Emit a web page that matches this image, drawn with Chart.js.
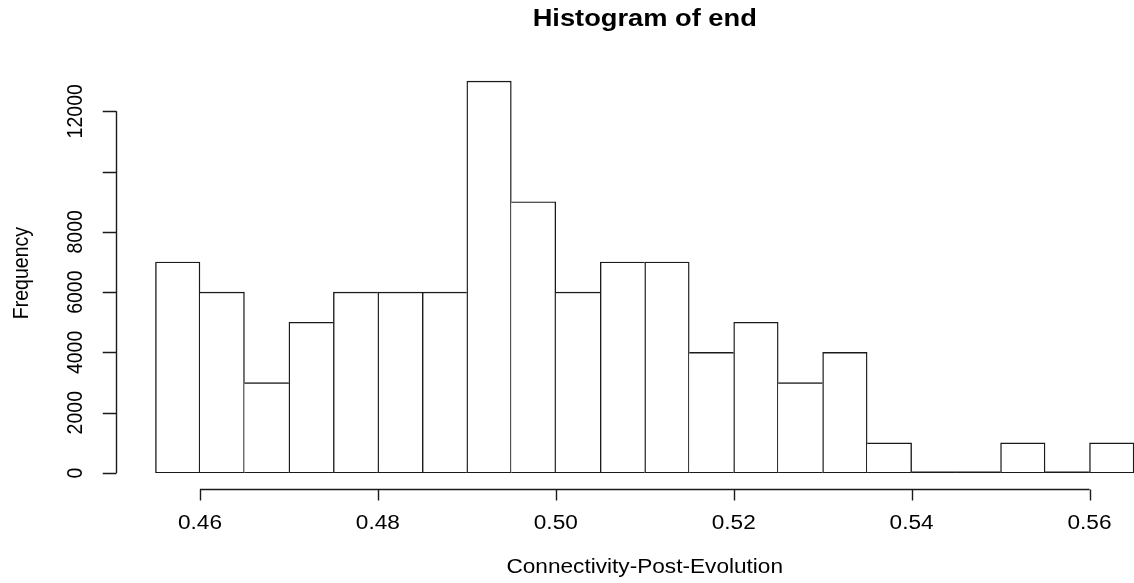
<!DOCTYPE html>
<html>
<head>
<meta charset="utf-8">
<title>Histogram of end</title>
<script src="https://cdn.jsdelivr.net/npm/chart.js@4/dist/chart.umd.min.js"></script>
<style>
  html, body { margin: 0; padding: 0; background: #fff; }
  #wrap { width: 1134px; height: 583px; position: relative; }
</style>
</head>
<body>
<div id="wrap"><canvas id="hist"></canvas></div>
<script>
// bins: left edges, common width, counts per bin
const binEdges = [0.455, 0.460, 0.465, 0.470, 0.475, 0.480, 0.485, 0.490, 0.495, 0.500, 0.505,
                  0.510, 0.515, 0.520, 0.525, 0.530, 0.535, 0.540, 0.545, 0.550, 0.555, 0.560];
const binWidth = 0.005;
const counts = [7000, 6000, 3000, 5000, 6000, 6000, 6000, 13000, 9000, 6000, 7000,
                7000, 4000, 5000, 3000, 4000, 1000, 0, 0, 1000, 0, 1000];

const xTicks = [0.46, 0.48, 0.50, 0.52, 0.54, 0.56];
const yTicks = [0, 2000, 4000, 6000, 8000, 10000, 12000];

const mainTitle = 'Histogram of end';
const xTitle = 'Connectivity-Post-Evolution';
const yTitle = 'Frequency';

const INK = '#1a1a1a';
const FONT = '"Liberation Sans", Arial, sans-serif';
const STRETCH = 1.16;   // text comes out a bit wide, like the old png device
const TICK = 11;
const LW = 1.4;

function drawText(ctx, str, x, y, size, opts = {}) {
  ctx.save();
  ctx.translate(x, y);
  ctx.scale(STRETCH, 1);
  if (opts.rotate) ctx.rotate(opts.rotate);
  ctx.font = (opts.bold ? 'bold ' : '') + size + 'px ' + FONT;
  ctx.fillStyle = '#000';
  ctx.textAlign = 'center';
  ctx.textBaseline = 'middle';
  ctx.fillText(str, 0, 0);
  ctx.restore();
}

// base-graphics style axes: detached from the bars, 4% outside the data range
const rAxes = {
  id: 'rAxes',
  afterDatasetsDraw(chart) {
    const ctx = chart.ctx;
    const xs = chart.scales.x, ys = chart.scales.y;
    const lo = binEdges[0], hi = binEdges[binEdges.length - 1] + binWidth;
    const top = Math.max(...counts);
    const padX = 0.04 * (hi - lo), padY = 0.04 * top;

    const left = xs.getPixelForValue(lo - padX);
    const right = xs.getPixelForValue(hi + padX);
    const bottom = ys.getPixelForValue(-padY);
    const upper = ys.getPixelForValue(top + padY);

    ctx.save();
    ctx.strokeStyle = INK;
    ctx.lineWidth = LW;

    // zero-count bins still leave their bottom edge
    const meta = chart.getDatasetMeta(0);
    meta.data.forEach((bar, i) => {
      if (counts[i] !== 0) return;
      const p = bar.getProps(['x', 'width', 'base'], true);
      const yy = p.base - LW / 2;
      ctx.beginPath();
      ctx.moveTo(p.x - p.width / 2, yy);
      ctx.lineTo(p.x + p.width / 2, yy);
      ctx.stroke();
    });

    // x axis
    const ax = Math.round(bottom) + 0.5;
    const x0 = xs.getPixelForValue(xTicks[0]);
    const x1 = xs.getPixelForValue(xTicks[xTicks.length - 1]);
    ctx.beginPath();
    ctx.moveTo(x0, ax);
    ctx.lineTo(x1, ax);
    xTicks.forEach(v => {
      const px = Math.round(xs.getPixelForValue(v)) + 0.5;
      ctx.moveTo(px, ax);
      ctx.lineTo(px, ax + TICK);
    });
    ctx.stroke();
    xTicks.forEach(v => {
      drawText(ctx, v.toFixed(2), xs.getPixelForValue(v), ax + 34, 19.5);
    });

    // y axis, labels turned parallel to it
    const ay = Math.round(left) + 0.5;
    ctx.beginPath();
    ctx.moveTo(ay, ys.getPixelForValue(yTicks[0]));
    ctx.lineTo(ay, ys.getPixelForValue(yTicks[yTicks.length - 1]));
    yTicks.forEach(v => {
      const py = Math.round(ys.getPixelForValue(v)) + 0.5;
      ctx.moveTo(ay, py);
      ctx.lineTo(ay - TICK * 1.25, py);
    });
    ctx.stroke();

    // drop a label when it would crowd the last one drawn
    ctx.font = '19.5px ' + FONT;
    let lastTop = Infinity;
    yTicks.forEach(v => {
      const s = String(v);
      const half = ctx.measureText(s).width / 2;
      const py = ys.getPixelForValue(v);
      if (py + half > lastTop - 16) return;
      drawText(ctx, s, ay - 41, py, 19.5, { rotate: -Math.PI / 2 });
      lastTop = py - half;
    });

    // titles
    const cx = (left + right) / 2;
    drawText(ctx, mainTitle, cx, 20, 23.5, { bold: true });
    drawText(ctx, xTitle, cx, 568, 19.5);
    drawText(ctx, yTitle, 22, (bottom + upper) / 2 - 4, 19.5, { rotate: -Math.PI / 2 });
    ctx.restore();
  }
};

new Chart(document.getElementById('hist'), {
  type: 'bar',
  data: {
    datasets: [{
      data: counts.map((c, i) => ({ x: binEdges[i] + binWidth / 2, y: c })),
      backgroundColor: '#ffffff',
      borderColor: INK,
      borderSkipped: false,
      // shared edges are drawn once, by the taller neighbour
      borderWidth: (c) => {
        const i = c.dataIndex, h = counts[i];
        if (!h) return 0;
        const prev = i > 0 ? counts[i - 1] : 0;
        const next = i < counts.length - 1 ? counts[i + 1] : 0;
        return { top: LW, bottom: LW, left: prev <= h ? LW : 0, right: next < h ? LW : 0 };
      },
      barPercentage: 1,
      categoryPercentage: 1
    }]
  },
  options: {
    responsive: true,
    maintainAspectRatio: false,
    animation: false,
    layout: { padding: { left: 111, right: 0, top: 51, bottom: 110 } },
    scales: {
      x: { type: 'linear', min: 0.45, max: 0.565, offset: false, display: false },
      y: { type: 'linear', min: 0, max: 14000, display: false }
    },
    plugins: {
      legend: { display: false },
      tooltip: { enabled: false },
      title: { display: false }
    }
  },
  plugins: [rAxes]
});
</script>
</body>
</html>
